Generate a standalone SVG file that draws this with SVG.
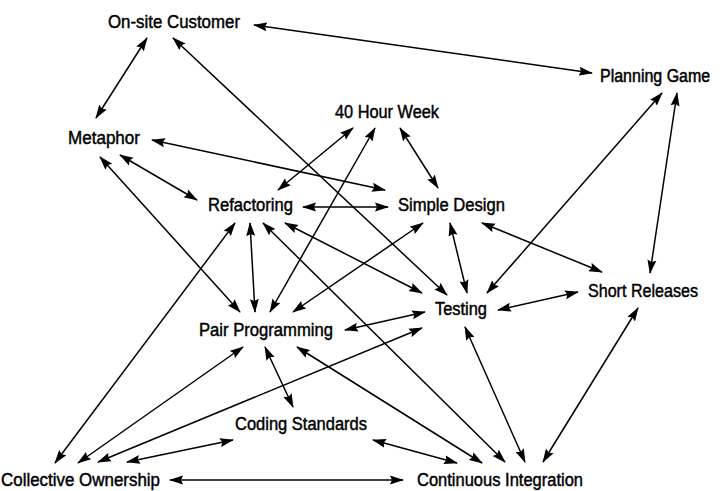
<svg xmlns="http://www.w3.org/2000/svg" width="720" height="491" viewBox="0 0 720 491">
<style>
.lbl{font-family:"Liberation Sans",Arial,sans-serif;font-size:18px;fill:#000;stroke:#000;stroke-width:0.45px}
.e{stroke:#000;stroke-width:1.5;fill:none;marker-start:url(#ah);marker-end:url(#ah)}
</style>
<defs>
<marker id="ah" markerUnits="userSpaceOnUse" markerWidth="14" markerHeight="10" refX="13" refY="5" orient="auto-start-reverse">
<path d="M0,0.5 L14,5 L0,9.5 L2,5 z" fill="#000"/>
</marker>
</defs>
<rect width="720" height="491" fill="#fff"/>
<g id="connectors">
<line class="e" x1="254" y1="25" x2="592" y2="73"/>
<line class="e" x1="147" y1="38" x2="96" y2="118"/>
<line class="e" x1="173" y1="38" x2="447" y2="295"/>
<line class="e" x1="662" y1="93" x2="487" y2="293"/>
<line class="e" x1="677" y1="93" x2="650" y2="273"/>
<line class="e" x1="353" y1="128" x2="278" y2="190"/>
<line class="e" x1="375" y1="128" x2="270" y2="312"/>
<line class="e" x1="400" y1="128" x2="438" y2="188"/>
<line class="e" x1="152" y1="140" x2="385" y2="190"/>
<line class="e" x1="303" y1="207" x2="388" y2="207"/>
<line class="e" x1="120" y1="155" x2="197" y2="200"/>
<line class="e" x1="100" y1="157" x2="240" y2="312"/>
<line class="e" x1="250" y1="223" x2="255" y2="312"/>
<line class="e" x1="235" y1="223" x2="55" y2="463"/>
<line class="e" x1="285" y1="223" x2="422" y2="293"/>
<line class="e" x1="263" y1="223" x2="505" y2="462"/>
<line class="e" x1="423" y1="223" x2="293" y2="312"/>
<line class="e" x1="450" y1="223" x2="467" y2="293"/>
<line class="e" x1="482" y1="223" x2="602" y2="272"/>
<line class="e" x1="498" y1="310" x2="578" y2="292"/>
<line class="e" x1="345" y1="330" x2="425" y2="312"/>
<line class="e" x1="98" y1="462" x2="422" y2="328"/>
<line class="e" x1="78" y1="463" x2="243" y2="347"/>
<line class="e" x1="127" y1="462" x2="233" y2="440"/>
<line class="e" x1="170" y1="480" x2="403" y2="480"/>
<line class="e" x1="265" y1="347" x2="293" y2="407"/>
<line class="e" x1="373" y1="440" x2="457" y2="463"/>
<line class="e" x1="297" y1="347" x2="482" y2="463"/>
<line class="e" x1="465" y1="327" x2="525" y2="462"/>
<line class="e" x1="638" y1="308" x2="543" y2="462"/>
</g>
<g id="onsite-customer"><text class="lbl" x="108" y="28" textLength="132" lengthAdjust="spacingAndGlyphs">On-site Customer</text></g>
<g id="planning-game"><text class="lbl" transform="translate(600,82) scale(1,1.12)" x="0" y="0" style="font-size:16px">Planning Game</text></g>
<g id="forty-hour-week"><text class="lbl" x="335" y="118" textLength="104" lengthAdjust="spacingAndGlyphs">40 Hour Week</text></g>
<g id="metaphor"><text class="lbl" x="68" y="144" textLength="72" lengthAdjust="spacingAndGlyphs">Metaphor</text></g>
<g id="refactoring"><text class="lbl" x="208" y="211" textLength="85" lengthAdjust="spacingAndGlyphs">Refactoring</text></g>
<g id="simple-design"><text class="lbl" x="398" y="211" textLength="107" lengthAdjust="spacingAndGlyphs">Simple Design</text></g>
<g id="testing"><text class="lbl" x="435" y="315" textLength="52" lengthAdjust="spacingAndGlyphs">Testing</text></g>
<g id="short-releases"><text class="lbl" x="588" y="297" textLength="110" lengthAdjust="spacingAndGlyphs">Short Releases</text></g>
<g id="pair-programming"><text class="lbl" x="199" y="336" textLength="134" lengthAdjust="spacingAndGlyphs">Pair Programming</text></g>
<g id="coding-standards"><text class="lbl" x="235" y="430" textLength="132" lengthAdjust="spacingAndGlyphs">Coding Standards</text></g>
<g id="collective-ownership"><text class="lbl" x="1" y="486" textLength="159" lengthAdjust="spacingAndGlyphs">Collective Ownership</text></g>
<g id="continuous-integration"><text class="lbl" x="417" y="486" textLength="166" lengthAdjust="spacingAndGlyphs">Continuous Integration</text></g>
</svg>
